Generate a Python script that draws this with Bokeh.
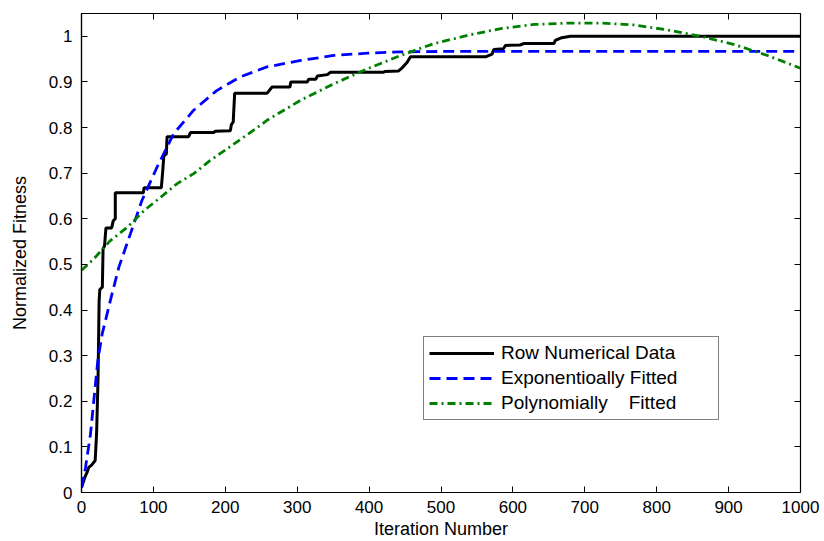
from bokeh.embed import file_html
from bokeh.models import CustomJSTickFormatter, FixedTicker, LinearAxis, Range1d
from bokeh.plotting import figure
from bokeh.resources import INLINE

# raw fitness curve (stair steps)
iterations_raw = [0, 5, 8, 10, 14, 19, 21, 23, 24.5, 25.5, 29, 30, 32, 34, 42, 44,
                  47, 47, 86, 87, 111, 113, 114.5, 118, 119, 149, 151.5, 184, 186,
                  207, 208.5, 211, 213, 258, 265, 290, 291, 314, 316, 326, 328, 342,
                  346, 420, 422, 441, 446, 453, 457.5, 562, 571, 573.5, 587, 589.5,
                  610, 615, 657, 659, 668, 680, 1000]
fitness_raw = [0.011, 0.035, 0.045, 0.055, 0.06, 0.07, 0.13, 0.25, 0.42, 0.445, 0.45,
               0.535, 0.54, 0.58, 0.58, 0.595, 0.6, 0.657, 0.657, 0.668, 0.668, 0.705,
               0.738, 0.742, 0.78, 0.78, 0.789, 0.789, 0.792, 0.793, 0.807, 0.812,
               0.875, 0.875, 0.889, 0.889, 0.9, 0.9, 0.906, 0.906, 0.913, 0.916,
               0.921, 0.921, 0.923, 0.924, 0.931, 0.943, 0.955, 0.955, 0.961, 0.971,
               0.973, 0.98, 0.981, 0.984, 0.984, 0.991, 0.997, 1.0, 1.0]

# exponential fit
iterations_exp = [0, 5.6, 12.5, 17, 22.7, 28.7, 40, 52, 68, 84, 105, 128, 156, 188,
                  221, 258, 305, 351, 398, 444, 520, 1000]
fitness_exp = [0.01, 0.055, 0.128, 0.2, 0.289, 0.347, 0.42, 0.494, 0.567, 0.64, 0.713,
               0.786, 0.838, 0.881, 0.911, 0.933, 0.947, 0.958, 0.963, 0.966, 0.967,
               0.967]

# polynomial fit
iterations_poly = [0, 17, 40, 64, 87, 110, 133, 156, 179, 203, 249, 258, 305, 351, 398,
                   444, 490, 537, 583, 630, 676, 722, 768, 815, 861, 908, 954, 1000]
fitness_poly = [0.487, 0.512, 0.552, 0.582, 0.618, 0.647, 0.677, 0.699, 0.728, 0.754,
                0.805, 0.816, 0.86, 0.896, 0.929, 0.958, 0.984, 1.002, 1.017, 1.026,
                1.029, 1.029, 1.025, 1.014, 1.0, 0.982, 0.958, 0.93]

x_ticks = [0, 100, 200, 300, 400, 500, 600, 700, 800, 900, 1000]
y_ticks = [0, 0.1, 0.2, 0.3, 0.4, 0.5, 0.6, 0.7, 0.8, 0.9, 1.0]

FONT = "Liberation Sans"

p = figure(width=820, height=541,
           x_range=Range1d(0, 1000), y_range=Range1d(0, 1.05),
           output_backend="svg", toolbar_location=None,
           min_border_left=81, min_border_right=20,
           min_border_top=13, min_border_bottom=49)

p.xgrid.visible = False
p.ygrid.visible = False
p.outline_line_color = "black"
p.outline_line_width = 1.2

p.xaxis.ticker = FixedTicker(ticks=x_ticks)
p.yaxis.ticker = FixedTicker(ticks=y_ticks)
p.yaxis.major_label_overrides = {0: "0", 1: "1"}
p.xaxis.axis_label = "Iteration Number"
p.yaxis.axis_label = "Normalized Fitness"

for axis in p.xaxis + p.yaxis:
    axis.axis_line_color = "black"
    axis.axis_line_width = 1.2
    axis.major_tick_in = 6
    axis.major_tick_out = 0
    axis.minor_tick_line_color = None
    axis.major_tick_line_color = "black"
    axis.major_label_text_font = FONT
    axis.major_label_text_font_size = "17px"
    axis.major_label_text_color = "black"
    axis.axis_label_text_font = FONT
    axis.axis_label_text_font_size = "18px"
    axis.axis_label_text_font_style = "normal"
    axis.axis_label_text_color = "black"

p.xaxis.major_label_standoff = 8
p.xaxis.axis_label_standoff = 3
p.yaxis.major_label_standoff = 9
p.yaxis.axis_label_standoff = 16

# inward ticks on the top and right sides, no labels
blank = CustomJSTickFormatter(code="return ''")
top_axis = LinearAxis(ticker=FixedTicker(ticks=x_ticks), formatter=blank)
right_axis = LinearAxis(ticker=FixedTicker(ticks=y_ticks), formatter=blank)
for axis in (top_axis, right_axis):
    axis.major_tick_in = 6
    axis.major_tick_out = 0
    axis.minor_tick_line_color = None
    axis.major_label_text_font_size = "0px"
    axis.major_label_standoff = 0
    axis.axis_line_color = "black"
p.add_layout(top_axis, "above")
p.add_layout(right_axis, "right")

p.line(iterations_raw, fitness_raw, line_color="black", line_width=3,
       legend_label="Row Numerical Data")
p.line(iterations_exp, fitness_exp, line_color="#0000ff", line_width=2.8,
       line_dash="11 6", legend_label="Exponentioally Fitted")
p.line(iterations_poly, fitness_poly, line_color="#008000", line_width=2.8,
       line_dash="8 4 2 4", legend_label="Polynomially    Fitted")

p.legend.location = (342, 72)
p.legend.label_text_font = FONT
p.legend.label_text_font_size = "19px"
p.legend.label_text_color = "black"
p.legend.glyph_width = 65
p.legend.glyph_height = 22
p.legend.label_height = 22
p.legend.label_width = 212
p.legend.spacing = 3
p.legend.padding = 5
p.legend.margin = 0
p.legend.label_standoff = 7
p.legend.border_line_color = "black"
p.legend.border_line_width = 1
p.legend.background_fill_alpha = 1

open("out.html", "w").write(file_html(p, INLINE))
